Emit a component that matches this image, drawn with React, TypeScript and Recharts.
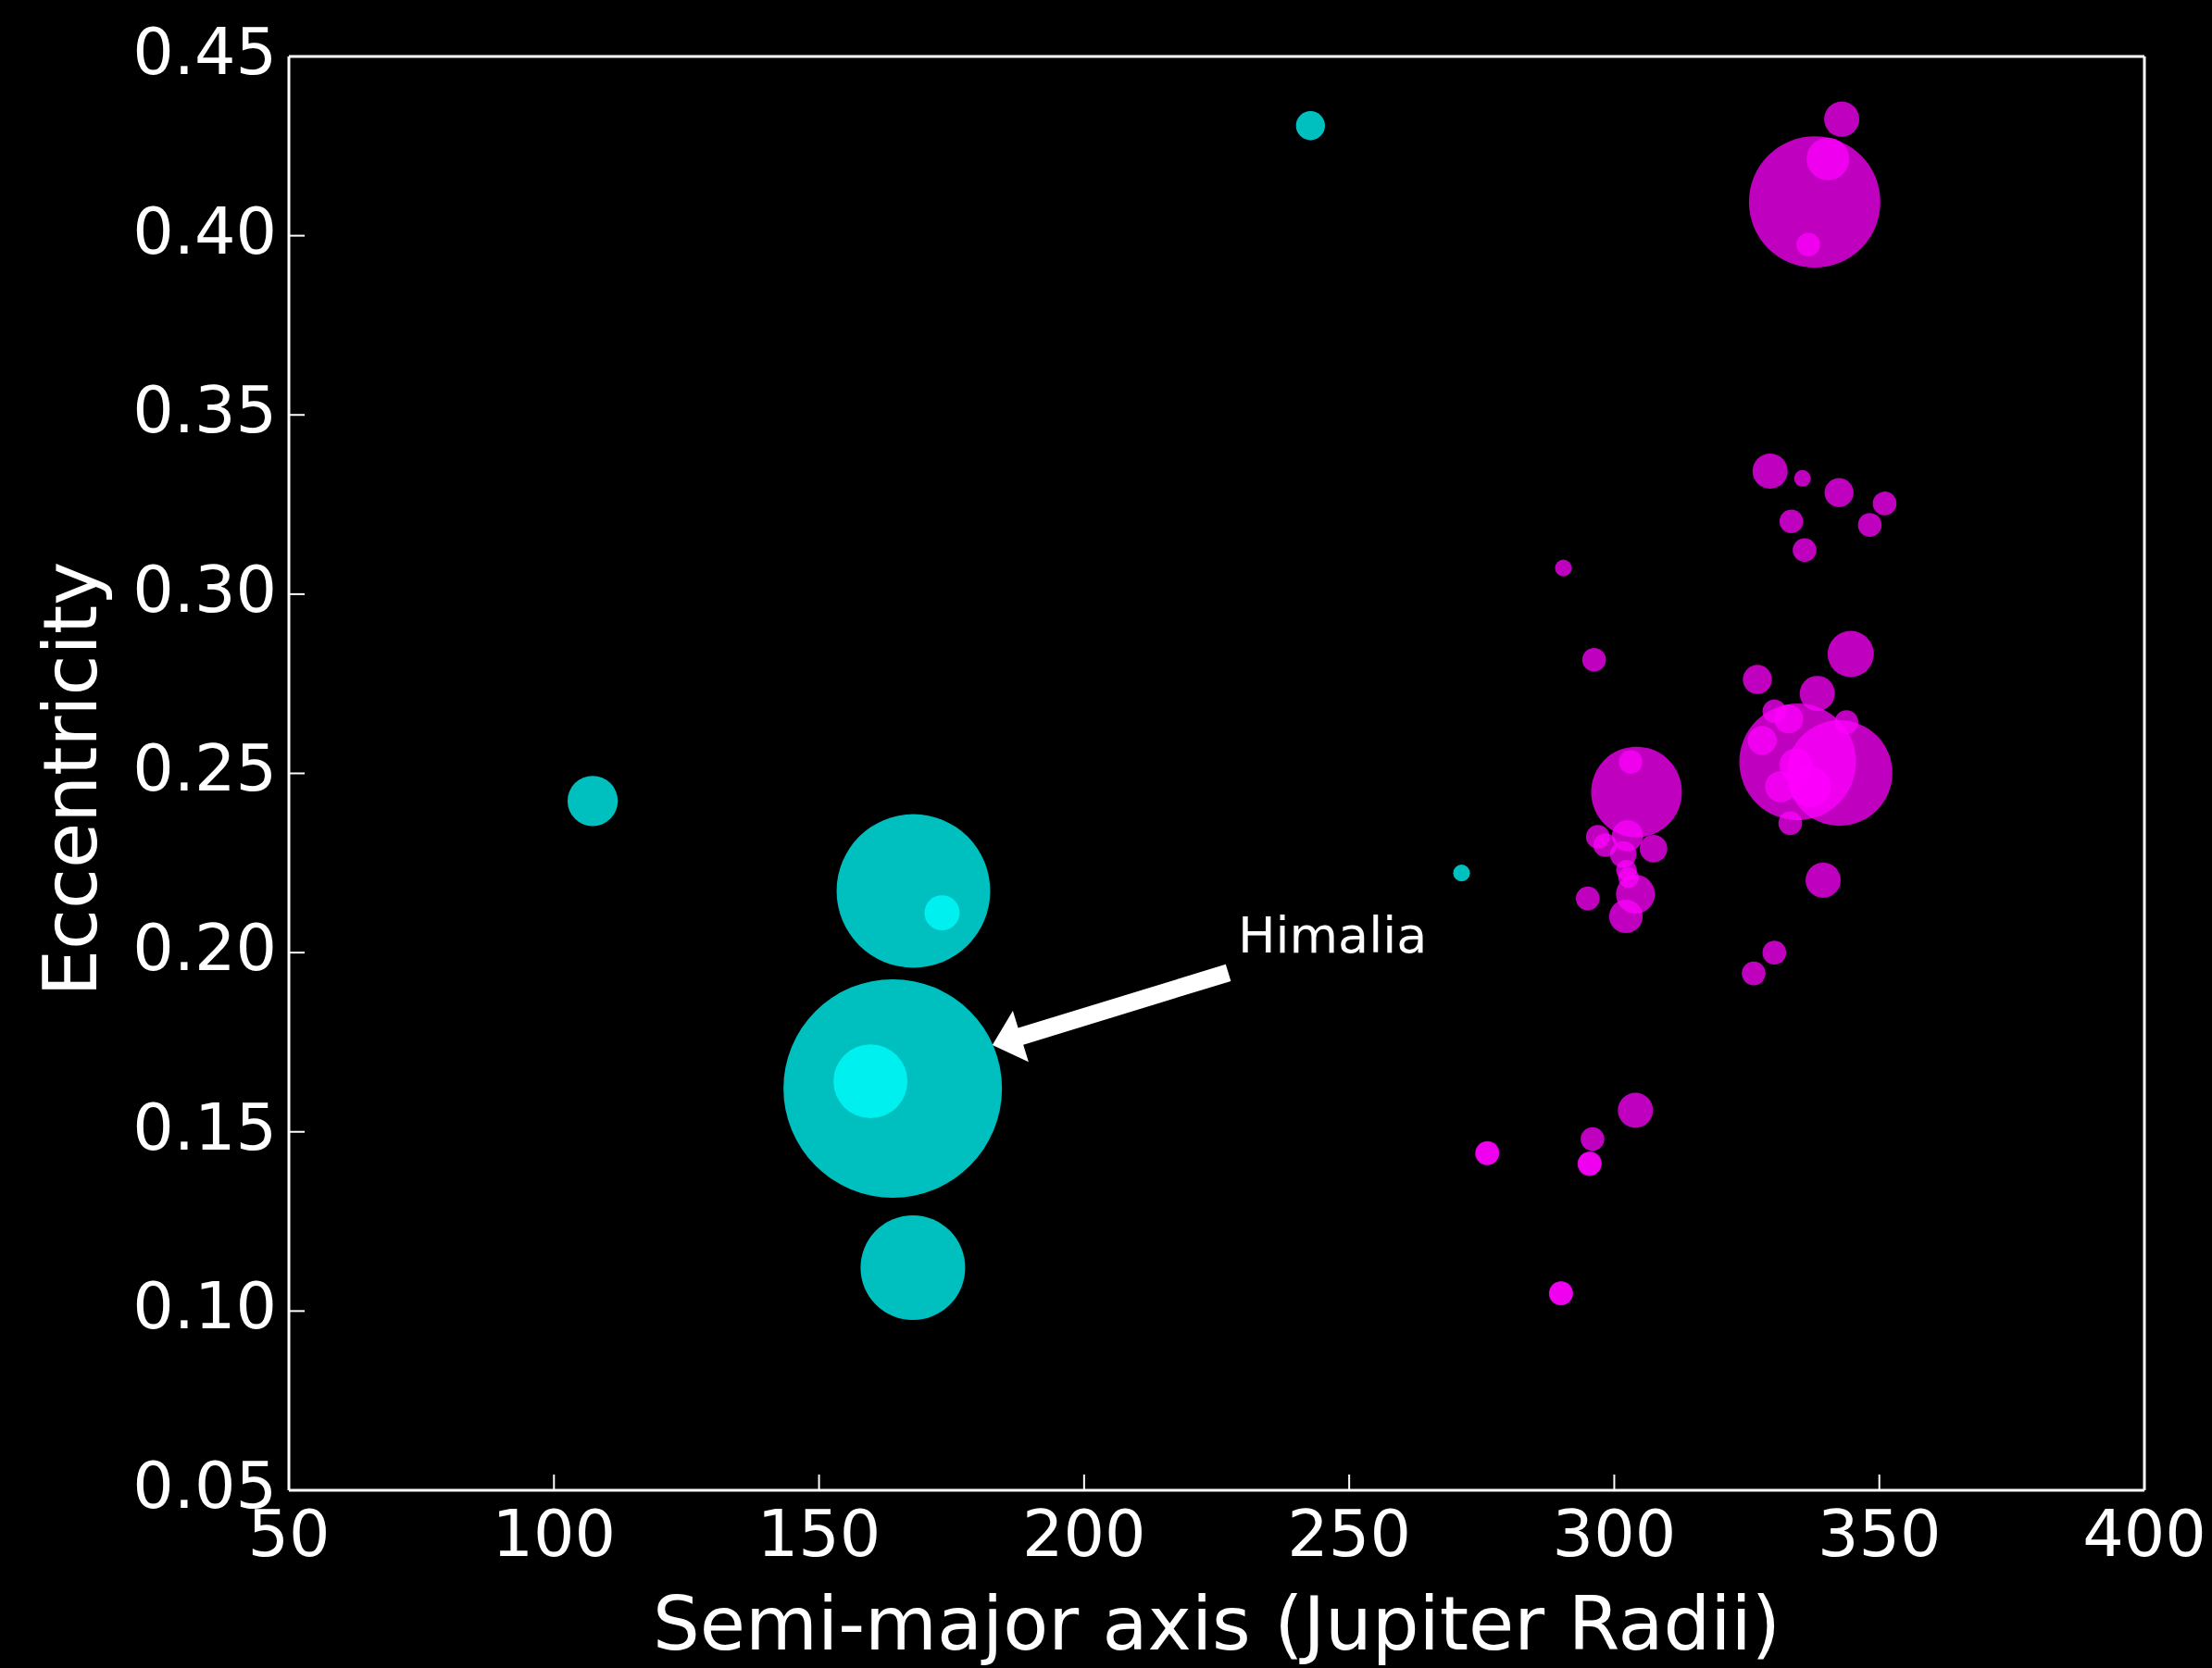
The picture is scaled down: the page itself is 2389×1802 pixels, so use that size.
import React from 'react';
import {
    ScatterChart, Scatter, XAxis, YAxis, ZAxis,
    ReferenceLine, ReferenceDot,
} from 'recharts';

// Prograde irregulars (Himalia group etc.) — semi-major axis (R_J), eccentricity, diameter (km)
const progradeA = [163.9, 167.8, 167.7, 159.7, 173.2, 107.3, 242.7, 271.2];
const progradeE = [0.1621, 0.2172, 0.1121, 0.1641, 0.2111, 0.2423, 0.4307, 0.2222];
const progradeD = [170, 84, 39, 19.5, 4.4, 9, 3, 1];

// Retrograde irregulars (Pasiphae, Carme, Ananke groups)
const retroA = [
    342.9, 337.8, 340.3, 336.6, 329.4, 335.5, 342.4, 351.0, 333.4, 348.2,
    335.9, 290.4, 296.2, 344.6, 327.0, 338.3, 343.8, 334.6, 342.5, 330.2,
    332.9, 327.9, 334.3, 331.4, 337.0, 333.2, 339.4, 330.2, 326.3, 304.2,
    303.1, 296.9, 302.5, 298.3, 307.4, 301.7, 302.3, 302.7, 304.0, 295.0,
    302.2, 304.0, 295.9, 295.3, 295.4, 276.0, 276.1, 289.9, 290.0,
];
const retroE = [
    0.4325, 0.4094, 0.4214, 0.3975, 0.3343, 0.3323, 0.3283, 0.3253, 0.3203, 0.3193,
    0.3123, 0.3073, 0.2817, 0.2833, 0.2762, 0.2723, 0.2643, 0.2532, 0.2501, 0.2673,
    0.2652, 0.2592, 0.2523, 0.2463, 0.2463, 0.2361, 0.2202, 0.2000, 0.1942, 0.2448,
    0.2532, 0.2323, 0.2326, 0.2300, 0.2290, 0.2274, 0.2230, 0.2209, 0.2163, 0.2151,
    0.2101, 0.1560, 0.1480, 0.1410, 0.1412, 0.1440, 0.1441, 0.1049, 0.1050,
];
const retroD = [
    4.4, 61.5, 6.5, 2, 4.4, 1, 3, 2, 2, 2,
    2, 1, 2, 7.6, 3, 4.4, 2, 48.5, 39.7, 2,
    3, 3, 4, 3.5, 6, 2, 4.4, 2, 2, 29.3,
    2, 2, 3.5, 2, 2.7, 2.5, 1.5, 1.5, 5.4, 2,
    4, 4.4, 2, 2, 2, 2, 2, 2, 2,
];

const X_TICKS = [50, 100, 150, 200, 250, 300, 350, 400];
const Y_TICKS = [0.05, 0.1, 0.15, 0.2, 0.25, 0.3, 0.35, 0.4, 0.45];

const ARROW_TAIL = { x: 227.2, y: 0.1944 };
const ARROW_TIP = { x: 182.7, y: 0.1742 };
const LABEL_POS = { x: 229, y: 0.2, text: 'Himalia' };

const prograde = progradeA.map((a, i) => ({ a, e: progradeE[i], d: progradeD[i] }));
const retrograde = retroA.map((a, i) => ({ a, e: retroE[i], d: retroD[i] }));

const FONT = '"DejaVu Sans", sans-serif';
const W = 2389;
const H = 1802;

function XTick({ x, y, payload }: any) {
    return (
        <text x={x} y={y} dy="0.73em" textAnchor="middle" fill="#fff" fontSize={70} fontFamily={FONT}>
            {payload.value}
        </text>
    );
}

function YTick({ x, y, payload }: any) {
    return (
        <text x={x} y={y} dy="0.27em" textAnchor="end" fill="#fff" fontSize={70} fontFamily={FONT}>
            {Number(payload.value).toFixed(2)}
        </text>
    );
}

// thick matplotlib-style arrow, tail -> tip
function Arrow({ x1, y1, x2, y2 }: any) {
    const dx = x2 - x1;
    const dy = y2 - y1;
    const len = Math.sqrt(dx * dx + dy * dy) || 1;
    const ux = dx / len, uy = dy / len;
    const nx = -uy, ny = ux;
    const w = 9.5, hw = 29, hl = 32;
    const bx = x2 - ux * hl, by = y2 - uy * hl;
    const pts = [
        [x1 + nx * w, y1 + ny * w],
        [bx + nx * w, by + ny * w],
        [bx + nx * hw, by + ny * hw],
        [x2, y2],
        [bx - nx * hw, by - ny * hw],
        [bx - nx * w, by - ny * w],
        [x1 - nx * w, y1 - ny * w],
    ].map((p) => p.join(',')).join(' ');
    return <polygon points={pts} fill="#fff" />;
}

export default function App() {
    return (
        <div style={{ width: W, height: H, background: '#000' }}>
            <style>{'html,body{margin:0;padding:0;background:#000;}'}</style>
            <ScatterChart
                width={W}
                height={H}
                margin={{ top: 60, right: 72, bottom: 0, left: 0 }}
                style={{ background: '#000' }}
            >
                <XAxis
                    xAxisId={0}
                    dataKey="a"
                    type="number"
                    domain={[50, 400]}
                    ticks={X_TICKS}
                    interval={0}
                    allowDataOverflow
                    height={192}
                    axisLine={{ stroke: '#fff', strokeWidth: 3 }}
                    tickLine={{ stroke: '#fff', strokeWidth: 2 }}
                    tickSize={-17}
                    tickMargin={37}
                    tick={<XTick />}
                    label={{
                        value: 'Semi-major axis (Jupiter Radii)',
                        content: ({ viewBox }: any) => (
                            <text
                                x={viewBox.x + viewBox.width / 2}
                                y={viewBox.y + 172}
                                textAnchor="middle"
                                fill="#fff"
                                fontSize={80}
                                fontFamily={FONT}
                            >
                                Semi-major axis (Jupiter Radii)
                            </text>
                        ),
                    }}
                />
                <XAxis
                    xAxisId="top"
                    orientation="top"
                    type="number"
                    domain={[50, 400]}
                    ticks={X_TICKS}
                    interval={0}
                    allowDataOverflow
                    height={1}
                    axisLine={{ stroke: '#fff', strokeWidth: 3 }}
                    tickLine={{ stroke: '#fff', strokeWidth: 2 }}
                    tickSize={-17}
                    tick={false}
                />
                <YAxis
                    yAxisId={0}
                    dataKey="e"
                    type="number"
                    domain={[0.05, 0.45]}
                    ticks={Y_TICKS}
                    interval={0}
                    allowDataOverflow
                    width={312}
                    axisLine={{ stroke: '#fff', strokeWidth: 3 }}
                    tickLine={{ stroke: '#fff', strokeWidth: 2 }}
                    tickSize={-17}
                    tickMargin={30}
                    tick={<YTick />}
                    label={{
                        value: 'Eccentricity',
                        content: ({ viewBox }: any) => {
                            const tx = viewBox.x + 104;
                            const ty = viewBox.y + viewBox.height / 2 + 6;
                            return (
                                <text
                                    x={tx}
                                    y={ty}
                                    transform={`rotate(-90 ${tx} ${ty})`}
                                    textAnchor="middle"
                                    fill="#fff"
                                    fontSize={80}
                                    fontFamily={FONT}
                                >
                                    Eccentricity
                                </text>
                            );
                        },
                    }}
                />
                <YAxis
                    yAxisId="right"
                    orientation="right"
                    type="number"
                    domain={[0.05, 0.45]}
                    ticks={Y_TICKS}
                    interval={0}
                    allowDataOverflow
                    width={1}
                    axisLine={{ stroke: '#fff', strokeWidth: 3 }}
                    tickLine={{ stroke: '#fff', strokeWidth: 2 }}
                    tickSize={-17}
                    tick={false}
                />
                <ZAxis dataKey="d" type="number" domain={[0, 170]} range={[0, 43744]} />
                <Scatter
                    data={prograde}
                    fill="#00ffff"
                    fillOpacity={0.75}
                    isAnimationActive={false}
                />
                <Scatter
                    data={retrograde}
                    fill="#ff00ff"
                    fillOpacity={0.75}
                    isAnimationActive={false}
                />
                <ReferenceLine
                    segment={[ARROW_TAIL, ARROW_TIP]}
                    shape={(p: any) => <Arrow {...p} />}
                />
                <ReferenceDot
                    x={LABEL_POS.x}
                    y={LABEL_POS.y}
                    shape={(p: any) => (
                        <text x={p.cx} y={p.cy} fill="#fff" fontSize={54} fontFamily={FONT}>
                            {LABEL_POS.text}
                        </text>
                    )}
                />
            </ScatterChart>
        </div>
    );
}
